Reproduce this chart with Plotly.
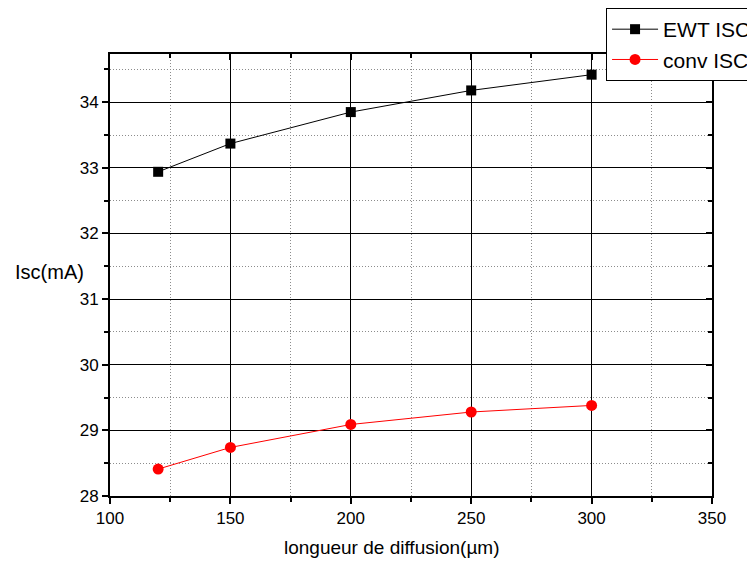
import plotly.graph_objects as go

diffusion_length = [120, 150, 200, 250, 300]
ewt_isc = [32.94, 33.37, 33.85, 34.18, 34.42]
conv_isc = [28.41, 28.74, 29.09, 29.28, 29.38]

x_ticks = [100, 150, 200, 250, 300, 350]
y_ticks = [28, 29, 30, 31, 32, 33, 34]
x_minor = [125, 175, 225, 275, 325]
y_minor = [28.5, 29.5, 30.5, 31.5, 32.5, 33.5, 34.5]

font_family = "Liberation Sans, Arial, sans-serif"

fig = go.Figure()

fig.add_trace(go.Scatter(
    x=diffusion_length, y=ewt_isc, name="EWT ISC",
    mode="lines+markers",
    line=dict(color="black", width=1),
    marker=dict(symbol="square", size=10, color="black"),
))
fig.add_trace(go.Scatter(
    x=diffusion_length, y=conv_isc, name="conv ISC",
    mode="lines+markers",
    line=dict(color="red", width=1),
    marker=dict(symbol="circle", size=11, color="red"),
))

x_range = [100, 350]
y_range = [28, 34.735]

# page body adds an 8px offset, so the figure is a bit smaller than the window
fig.update_layout(
    width=747, height=554,
    margin=dict(l=102, r=43, t=46, b=66, autoexpand=False),
    plot_bgcolor="white", paper_bgcolor="white",
    font=dict(family=font_family, size=17, color="black"),
    showlegend=True,
    legend=dict(
        x=0.824, y=1.104, xanchor="left", yanchor="top",
        bordercolor="black", borderwidth=1,
        bgcolor="white",
        font=dict(size=21),
        tracegroupgap=0,
        itemwidth=46,
    ),
    xaxis=dict(
        range=x_range, tickvals=x_ticks,
        ticks="outside", ticklen=6, tickwidth=2, tickcolor="black",
        showline=True, linecolor="black", linewidth=2,
        showgrid=True, gridcolor="black", gridwidth=1,
        zeroline=False,
        minor=dict(tickvals=x_minor, ticks="outside", ticklen=4,
                   tickwidth=2, tickcolor="black",
                   showgrid=True, gridcolor="#8c8c8c", griddash="1px,2px", gridwidth=1),
    ),
    yaxis=dict(
        range=y_range, tickvals=y_ticks,
        ticks="outside", ticklen=6, tickwidth=2, tickcolor="black",
        showline=True, linecolor="black", linewidth=2,
        showgrid=True, gridcolor="black", gridwidth=1,
        zeroline=False,
        minor=dict(tickvals=y_minor, ticks="outside",
                   ticklen=4, tickwidth=2, tickcolor="black",
                   showgrid=True, gridcolor="#8c8c8c", griddash="1px,2px", gridwidth=1),
    ),
    # mirrored frame with inward ticks on top and right
    xaxis2=dict(
        overlaying="x", side="top", range=x_range, tickvals=x_ticks,
        ticks="inside", ticklen=6, tickwidth=2, tickcolor="black",
        showticklabels=False, showline=True, linecolor="black", linewidth=2,
        showgrid=False, zeroline=False,
        minor=dict(tickvals=x_minor, ticks="inside", ticklen=4,
                   tickwidth=2, tickcolor="black"),
    ),
    yaxis2=dict(
        overlaying="y", side="right", range=y_range, tickvals=y_ticks,
        ticks="inside", ticklen=6, tickwidth=2, tickcolor="black",
        showticklabels=False, showline=True, linecolor="black", linewidth=2,
        showgrid=False, zeroline=False,
        minor=dict(tickvals=y_minor, ticks="inside",
                   ticklen=4, tickwidth=2, tickcolor="black"),
    ),
)

# invisible trace so the mirrored axes get drawn
fig.add_trace(go.Scatter(
    x=[x_range[0]], y=[y_range[0]], xaxis="x2", yaxis="y2",
    mode="markers", marker=dict(opacity=0), showlegend=False, hoverinfo="skip",
))

# axis titles placed as in the original (x title sits left of centre)
fig.add_annotation(
    text="Isc(mA)", xref="paper", yref="paper",
    x=-0.161, y=0.507, xanchor="left", yanchor="middle",
    showarrow=False, font=dict(size=20),
)
fig.add_annotation(
    text="longueur de diffusion(µm)", xref="paper", yref="paper",
    x=0.468, y=-0.1176, xanchor="center", yanchor="middle",
    showarrow=False, font=dict(size=19),
)

fig.write_html("out.html")
